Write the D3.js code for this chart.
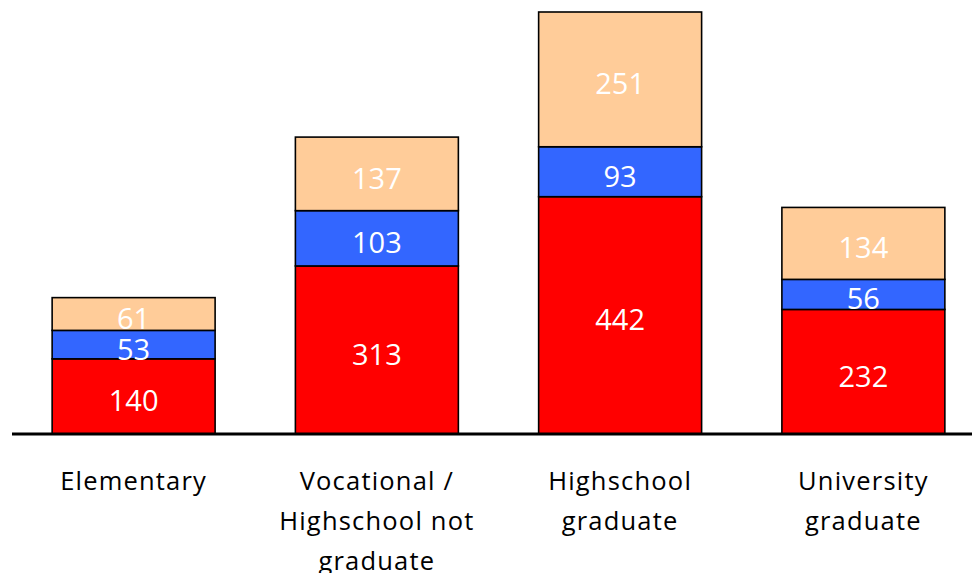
<!DOCTYPE html>
<html><head><meta charset="utf-8">
<script src="https://cdn.jsdelivr.net/npm/d3@7"></script>
<style>body{margin:0;background:#fff}svg{display:block}</style>
</head><body>
<svg id="c" width="972" height="573"></svg>
<script>
const categories = ["Elementary", "Vocational / Highschool not graduate", "Highschool graduate", "University graduate"];
const categoryLines = [["Elementary"], ["Vocational /", "Highschool not", "graduate"], ["Highschool", "graduate"], ["University", "graduate"]];
const seriesNames = ["s1", "s2", "s3"];
const s1 = [140, 313, 442, 232];
const s2 = [53, 103, 93, 56];
const s3 = [61, 137, 251, 134];
const colors = ["#FF0000", "#3366FF", "#FFCC99"];

const svg = d3.select("#c");
const baseY = 434, topY = 12;
const rows = categories.map((c, i) => ({cat: c, s1: s1[i], s2: s2[i], s3: s3[i]}));
const stack = d3.stack().keys(seriesNames)(rows);
const maxTotal = d3.max(rows, d => d.s1 + d.s2 + d.s3);
const x = d3.scaleBand().domain(categories).range([12, 985]).paddingInner(0.33).paddingOuter(0.165);
const y = d3.scaleLinear().domain([0, maxTotal]).range([baseY, topY]);
const font = "'Open Sans', sans-serif";

stack.forEach((layer, li) => {
  const g = svg.append("g");
  g.selectAll("rect").data(layer).join("rect")
    .attr("x", d => x(d.data.cat))
    .attr("width", x.bandwidth())
    .attr("y", d => y(d[1]))
    .attr("height", d => y(d[0]) - y(d[1]))
    .attr("fill", colors[li])
    .attr("stroke", "#000")
    .attr("stroke-width", 1.6);
});
stack.forEach((layer, li) => {
  svg.append("g").selectAll("text").data(layer).join("text")
    .attr("x", d => x(d.data.cat) + x.bandwidth() / 2)
    .attr("y", d => (y(d[0]) + y(d[1])) / 2 + 15)
    .attr("text-anchor", "middle")
    .attr("fill", "#fff")
    .attr("font-family", font)
    .attr("font-size", 29)
    .text(d => d[1] - d[0]);
});

// axis line
const axis = d3.axisBottom(x).tickSize(0).tickFormat("");
const ag = svg.append("g").attr("transform", `translate(0,${baseY})`).call(axis);
ag.select(".domain").attr("stroke", "#000").attr("stroke-width", 3).attr("d", "M12,0H972");

categories.forEach((c, i) => {
  const t = svg.append("text")
    .attr("text-anchor", "middle")
    .attr("font-family", font)
    .attr("font-size", 25.5)
    .attr("letter-spacing", 1.2)
    .attr("fill", "#000");
  categoryLines[i].forEach((ln, j) => {
    t.append("tspan").attr("x", x(c) + x.bandwidth() / 2).attr("y", 490 + j * 40).text(ln);
  });
});
</script>
</body></html>
